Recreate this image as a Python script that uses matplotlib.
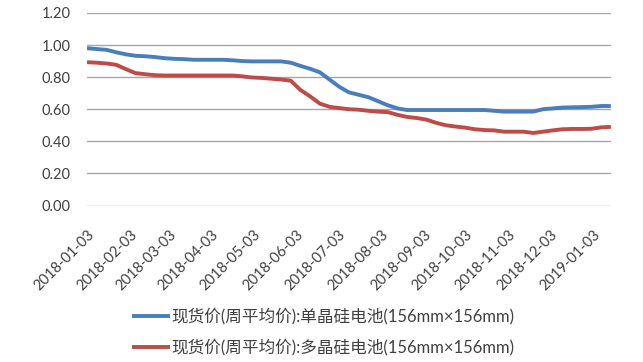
import numpy as np
import pandas as pd
import matplotlib
matplotlib.use('Agg')
import matplotlib.pyplot as plt
import matplotlib.dates as mdates

plt.rcParams['font.family'] = ['Lato', 'Noto Sans CJK SC', 'DejaVu Sans']

# weekly data, Wednesdays
dates = pd.date_range('2018-01-03', '2019-01-16', freq='7D')

mono = [0.980, 0.975, 0.970, 0.955, 0.942, 0.933, 0.930, 0.925, 0.918, 0.914,
        0.912, 0.908, 0.908, 0.908, 0.908, 0.905, 0.900, 0.898, 0.898, 0.898,
        0.898, 0.890, 0.870, 0.852, 0.830, 0.785, 0.740, 0.705, 0.690, 0.675,
        0.650, 0.625, 0.605, 0.595, 0.595, 0.595, 0.595, 0.595, 0.595, 0.595,
        0.595, 0.595, 0.590, 0.585, 0.585, 0.585, 0.585, 0.600, 0.605, 0.610,
        0.612, 0.613, 0.615, 0.620, 0.620]

poly = [0.893, 0.890, 0.885, 0.877, 0.850, 0.825, 0.818, 0.812, 0.810, 0.810,
        0.810, 0.810, 0.810, 0.810, 0.810, 0.810, 0.805, 0.798, 0.795, 0.790,
        0.785, 0.778, 0.720, 0.680, 0.635, 0.615, 0.607, 0.600, 0.597, 0.590,
        0.585, 0.582, 0.565, 0.552, 0.545, 0.535, 0.515, 0.500, 0.492, 0.485,
        0.475, 0.470, 0.468, 0.460, 0.460, 0.460, 0.452, 0.460, 0.468, 0.475,
        0.477, 0.477, 0.478, 0.487, 0.490]

labels = ['现货价(周平均价):单晶硅电池(156mm×156mm)',
          '现货价(周平均价):多晶硅电池(156mm×156mm)']
colors = ['#4A7EBB', '#BE4B48']

fig = plt.figure(figsize=(6.43, 3.62), dpi=100)
ax = fig.add_axes([0.1353, 0.4323, 0.8147, 0.532])

ax.plot(dates, mono, color=colors[0], lw=2.8, label=labels[0], solid_capstyle='butt')
ax.plot(dates, poly, color=colors[1], lw=2.8, label=labels[1], solid_capstyle='butt')

ax.set_ylim(0, 1.2)
ax.set_yticks(np.arange(0, 1.21, 0.2))
ax.set_yticklabels([f'{v:.2f}' for v in np.arange(0, 1.21, 0.2)])
ax.set_xlim(dates[0], dates[-1])
ax.xaxis.set_major_locator(mdates.MonthLocator(bymonthday=3))
ax.xaxis.set_major_formatter(mdates.DateFormatter('%Y-%m-%d'))

ax.grid(axis='y', color='#A6A6A6', lw=1)
ax.set_axisbelow(True)
for s in ax.spines.values():
    s.set_visible(False)
ax.tick_params(axis='both', length=0, labelsize=10.5, colors='#404040')
ax.tick_params(axis='y', pad=12)
ax.tick_params(axis='x', pad=16)
for t in ax.get_xticklabels():
    t.set_rotation(45)
    t.set_ha('right')
    t.set_rotation_mode('anchor')

fig.legend(loc='upper left', bbox_to_anchor=(132 / 643, 1 - 308 / 362),
           frameon=False, fontsize=12, handlelength=2.3, handletextpad=0.05,
           labelspacing=0.82, borderpad=0, borderaxespad=0,
           labelcolor='#404040')

fig.savefig('out.png', dpi=100)
